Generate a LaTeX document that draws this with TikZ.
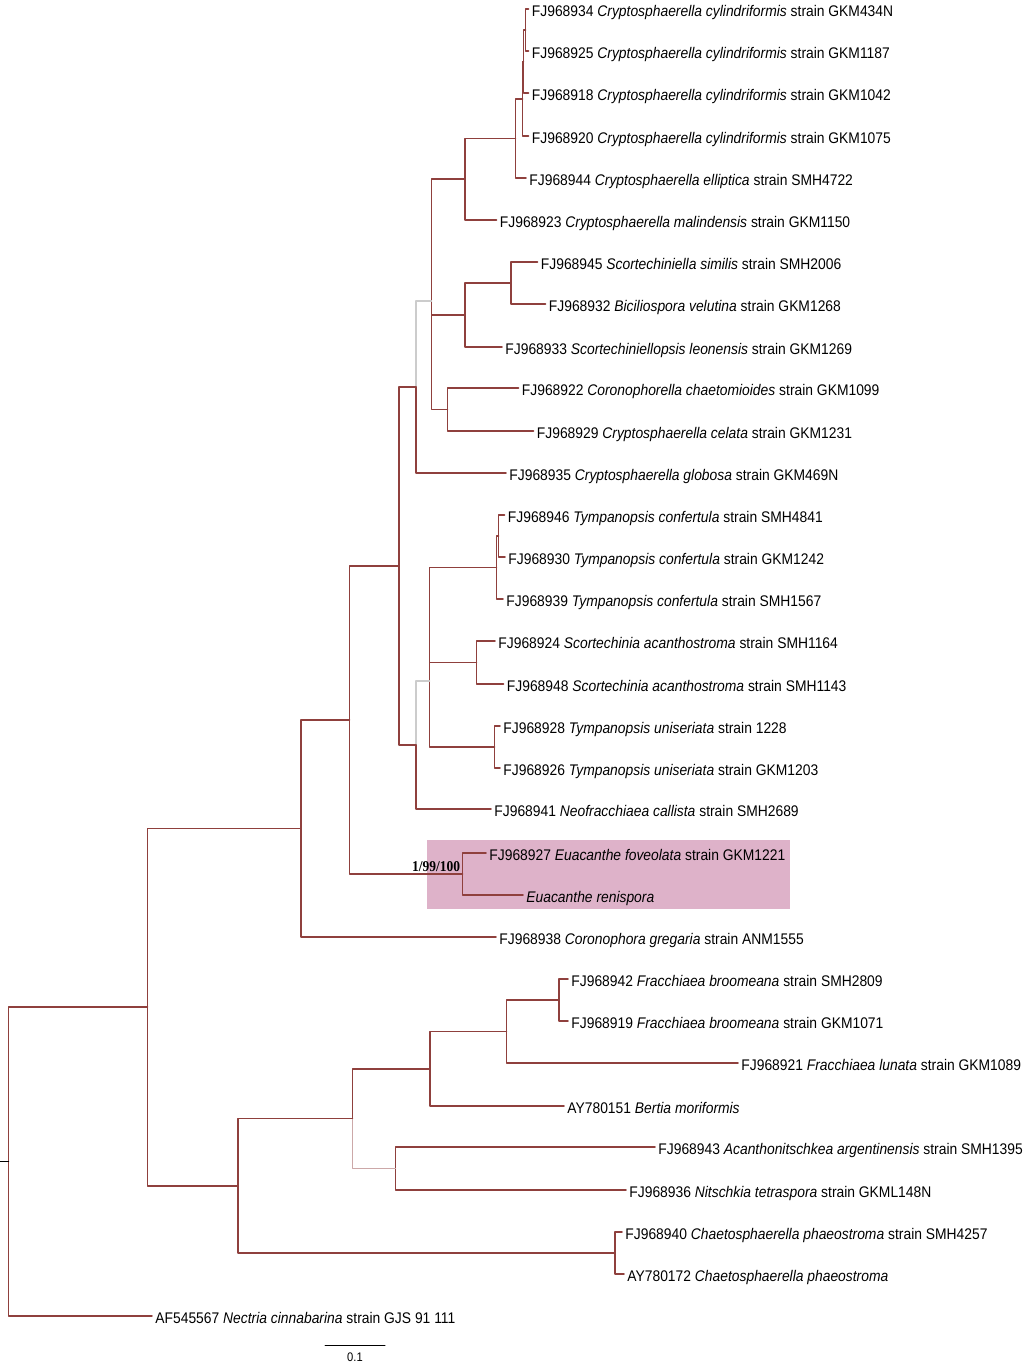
\documentclass[tikz,border=0pt]{standalone}
\usepackage{fontspec}
\setmainfont{Liberation Sans}[FakeStretch=0.9]
\newfontfamily\supfont{Liberation Serif}[FakeStretch=0.9]
\definecolor{ttqqqq}{rgb}{0.56,0.25,0.24}
\definecolor{cccccc}{rgb}{0.8,0.8,0.8}
\definecolor{ccaaaa}{rgb}{0.8,0.66,0.66}
\definecolor{ddbbcc}{rgb}{0.87,0.7,0.79}
\begin{document}
\begin{tikzpicture}[line cap=round,line join=round,x=0.5pt,y=-0.5pt,
	lbl/.style={anchor=west,inner sep=1.5pt,text height=1.38ex,text depth=0pt,font=\fontsize{7.7}{9}\selectfont},
	brl/.style={color=ttqqqq,line width=0.75pt},
	lgl/.style={color=cccccc,line width=0.75pt}]
	\useasboundingbox (0,0) rectangle (1023,1366);
	\fill [color=ddbbcc] (427,840) rectangle (790,909);
	% inner nodes
	\coordinate (nA) at (525.5,30);
	\coordinate (nB) at (523.5,61.5);
	\coordinate (nC) at (522.5,98.75);
	\coordinate (nD) at (515.5,138.4);
	\coordinate (nE) at (465,179.2);
	\coordinate (nF) at (511,283);
	\coordinate (nG) at (465,315);
	\coordinate (nI) at (447.5,409.5);
	\coordinate (nJ) at (431.5,301.2);
	\coordinate (nK) at (416,387);
	\coordinate (nOa) at (498.5,536);
	\coordinate (nO) at (496.5,567.5);
	\coordinate (nP) at (476.5,662.5);
	\coordinate (nQ) at (494.5,747);
	\coordinate (nNa) at (429.5,615);
	\coordinate (nN) at (429.5,681);
	\coordinate (nM) at (416,745);
	\coordinate (nL) at (399,566);
	\coordinate (nR) at (462.5,874);
	\coordinate (nS) at (349.5,720);
	\coordinate (nT) at (301,828.5);
	\coordinate (nZ) at (559,1000);
	\coordinate (nY) at (506.5,1031.5);
	\coordinate (nX) at (430,1068.8);
	\coordinate (nAA) at (395.5,1168.5);
	\coordinate (nW) at (352.5,1118.6);
	\coordinate (nBB) at (615,1253);
	\coordinate (nV) at (238,1185.8);
	\coordinate (nU) at (147.5,1007);
	\coordinate (nRt) at (8.5,1161.5);
	\coordinate (nTk) at (0,1161.5);
	% taxa
	\node[lbl] (l1) at (528.5,9) {FJ968934 \textit{Cryptosphaerella cylindriformis} strain GKM434N};
	\node[lbl] (l2) at (528.5,51) {FJ968925 \textit{Cryptosphaerella cylindriformis} strain GKM1187};
	\node[lbl] (l3) at (528.5,93) {FJ968918 \textit{Cryptosphaerella cylindriformis} strain GKM1042};
	\node[lbl] (l4) at (528.5,136) {FJ968920 \textit{Cryptosphaerella cylindriformis} strain GKM1075};
	\node[lbl] (l5) at (526,178) {FJ968944 \textit{Cryptosphaerella elliptica} strain SMH4722};
	\node[lbl] (l6) at (496.5,220) {FJ968923 \textit{Cryptosphaerella malindensis} strain GKM1150};
	\node[lbl] (l7) at (537.5,262) {FJ968945 \textit{Scortechiniella similis} strain SMH2006};
	\node[lbl] (l8) at (545.5,304) {FJ968932 \textit{Biciliospora velutina} strain GKM1268};
	\node[lbl] (l9) at (502,347) {FJ968933 \textit{Scortechiniellopsis leonensis} strain GKM1269};
	\node[lbl] (l10) at (518.5,388) {FJ968922 \textit{Coronophorella chaetomioides} strain GKM1099};
	\node[lbl] (l11) at (533.5,431) {FJ968929 \textit{Cryptosphaerella celata} strain GKM1231};
	\node[lbl] (l12) at (506,473) {FJ968935 \textit{Cryptosphaerella globosa} strain GKM469N};
	\node[lbl] (l13) at (504.5,515) {FJ968946 \textit{Tympanopsis confertula} strain SMH4841};
	\node[lbl] (l14) at (505,557) {FJ968930 \textit{Tympanopsis confertula} strain GKM1242};
	\node[lbl] (l15) at (503,599) {FJ968939 \textit{Tympanopsis confertula} strain SMH1567};
	\node[lbl] (l16) at (495,641) {FJ968924 \textit{Scortechinia acanthostroma} strain SMH1164};
	\node[lbl] (l17) at (503.5,684) {FJ968948 \textit{Scortechinia acanthostroma} strain SMH1143};
	\node[lbl] (l18) at (500,726) {FJ968928 \textit{Tympanopsis uniseriata} strain 1228};
	\node[lbl] (l19) at (500,768) {FJ968926 \textit{Tympanopsis uniseriata} strain GKM1203};
	\node[lbl] (l20) at (491,809) {FJ968941 \textit{Neofracchiaea callista} strain SMH2689};
	\node[lbl] (l21) at (486,853) {FJ968927 \textit{Euacanthe foveolata} strain GKM1221};
	\node[lbl] (l22) at (523,895) {\textit{Euacanthe renispora}};
	\node[lbl] (l23) at (496,937) {FJ968938 \textit{Coronophora gregaria} strain ANM1555};
	\node[lbl] (l24) at (568,979) {FJ968942 \textit{Fracchiaea broomeana} strain SMH2809};
	\node[lbl] (l25) at (568,1021) {FJ968919 \textit{Fracchiaea broomeana} strain GKM1071};
	\node[lbl] (l26) at (738,1063) {FJ968921 \textit{Fracchiaea lunata} strain GKM1089};
	\node[lbl] (l27) at (564,1106) {AY780151 \textit{Bertia moriformis}};
	\node[lbl] (l28) at (655,1147) {FJ968943 \textit{Acanthonitschkea argentinensis} strain SMH1395};
	\node[lbl] (l29) at (626,1190) {FJ968936 \textit{Nitschkia tetraspora} strain GKML148N};
	\node[lbl] (l30) at (622,1232) {FJ968940 \textit{Chaetosphaerella phaeostroma} strain SMH4257};
	\node[lbl] (l31) at (624,1274) {AY780172 \textit{Chaetosphaerella phaeostroma}};
	\node[lbl] (l32) at (152,1316) {AF545567 \textit{Nectria cinnabarina} strain GJS 91 111};
	% branches
	\draw [brl] (nA) |- (l1);
	\draw [brl] (nA) |- (l2);
	\draw [brl] (nB) |- (nA);
	\draw [brl] (nB) |- (l3);
	\draw [brl] (nC) |- (nB);
	\draw [brl] (nC) |- (l4);
	\draw [brl] (nD) |- (nC);
	\draw [brl] (nD) |- (l5);
	\draw [brl] (nE) |- (nD);
	\draw [brl] (nE) |- (l6);
	\draw [brl] (nF) |- (l7);
	\draw [brl] (nF) |- (l8);
	\draw [brl] (nG) |- (nF);
	\draw [brl] (nG) |- (l9);
	\draw [brl] (nI) |- (l10);
	\draw [brl] (nI) |- (l11);
	\draw [brl] (nJ) |- (nE);
	\draw [brl] (nJ) |- (nG);
	\draw [brl] (nJ) |- (nI);
	\draw [lgl] (nK) |- (nJ);
	\draw [brl] (nK) |- (l12);
	\draw [brl] (nOa) |- (l13);
	\draw [brl] (nOa) |- (l14);
	\draw [brl] (nO) |- (nOa);
	\draw [brl] (nO) |- (l15);
	\draw [brl] (nP) |- (l16);
	\draw [brl] (nP) |- (l17);
	\draw [brl] (nQ) |- (l18);
	\draw [brl] (nQ) |- (l19);
	\draw [brl] (nNa) |- (nO);
	\draw [brl] (nNa) |- (nP);
	\draw [brl] (nN) -- (nNa);
	\draw [brl] (nN) |- (nQ);
	\draw [lgl] (nM) |- (nN);
	\draw [brl] (nM) |- (l20);
	\draw [brl] (nL) |- (nK);
	\draw [brl] (nL) |- (nM);
	\draw [brl] (nR) |- (l21);
	\draw [brl] (nR) |- (l22);
	\draw [brl] (nS) |- (nL);
	\draw [brl] (nS) |- (nR);
	\draw [brl] (nT) |- (nS);
	\draw [brl] (nT) |- (l23);
	\draw [brl] (nZ) |- (l24);
	\draw [brl] (nZ) |- (l25);
	\draw [brl] (nY) |- (nZ);
	\draw [brl] (nY) |- (l26);
	\draw [brl] (nX) |- (nY);
	\draw [brl] (nX) |- (l27);
	\draw [brl] (nAA) |- (l28);
	\draw [brl] (nAA) |- (l29);
	\draw [brl] (nW) |- (nX);
	\draw [brl,color=ccaaaa] (nW) |- (nAA);
	\draw [brl] (nBB) |- (l30);
	\draw [brl] (nBB) |- (l31);
	\draw [brl] (nV) |- (nW);
	\draw [brl] (nV) |- (nBB);
	\draw [brl] (nU) |- (nT);
	\draw [brl] (nU) |- (nV);
	\draw [brl] (nRt) |- (nU);
	\draw [brl] (nRt) |- (l32);
	\draw [line width=0.75pt] (nTk) -- (nRt);
	% support and scale
	\node[anchor=south east,inner sep=1pt,font=\supfont\bfseries\fontsize{7.5}{9}\selectfont] (sup) at (nR) {1/99/100};
	\coordinate (sb1) at (325,1345);
	\coordinate (sb2) at (385,1345);
	\draw [line width=0.5pt] (sb1) -- (sb2);
	\node[font=\fontsize{6.2}{7}\selectfont] (sbl) at (355,1357) {0.1};
\end{tikzpicture}
\end{document}
